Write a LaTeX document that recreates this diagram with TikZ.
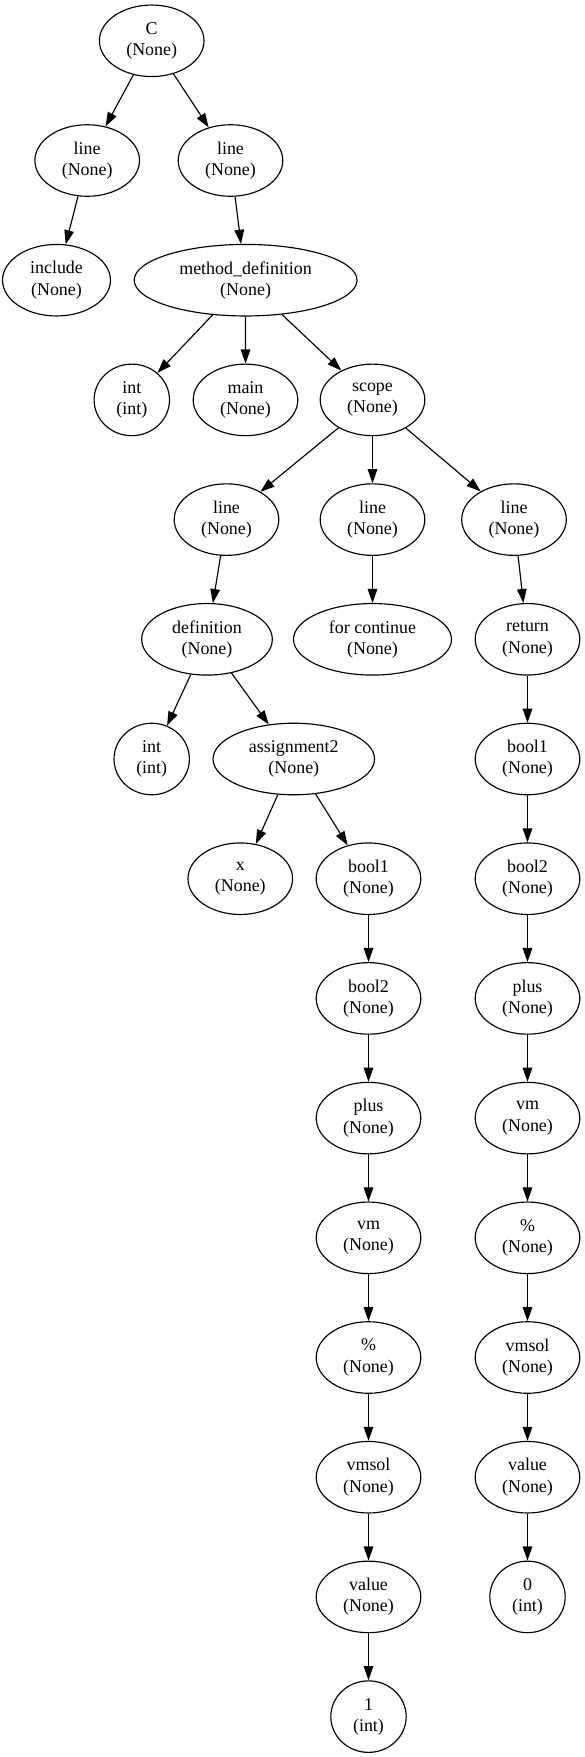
\documentclass[tikz,border=0pt]{standalone}
\usepackage{fontspec}
\setmainfont{Liberation Serif}
\usepackage{tikz}
\usetikzlibrary{shapes.geometric,arrows.meta}

\tikzset{
	astnode/.style={ellipse, draw, line width=0.9pt, inner sep=0pt, align=center,
		minimum width=81.6pt, minimum height=55.8pt, font=\fontsize{14}{16.5}\selectfont},
	narrow/.style={minimum width=58.8pt},
	edge/.style={line width=0.9pt, -{Triangle[length=11pt, width=7.5pt]}}
}

\begin{document}
\begin{tikzpicture}[x=0.78pt, y=-0.78pt]
	\useasboundingbox (0,0) rectangle (585,1757);
	\node[astnode] (C) at (151.7, 40.8) {C\\(None)};
		\node[astnode] (line1) at (87.2, 160.5) {line\\(None)};
		\node[astnode] (line2) at (230.5, 160.5) {line\\(None)};
			\node[astnode, minimum width=84.2pt] (include) at (56.5, 280.2) {include\\(None)};
			\node[astnode, minimum width=173.8pt] (mdef) at (245.6, 280.2) {method\_definition\\(None)};
				\node[astnode, narrow] (int1) at (131.8, 399.9) {int\\(int)};
				\node[astnode] (main) at (245.5, 399.9) {main\\(None)};
				\node[astnode] (scope) at (372.5, 399.9) {scope\\(None)};
					\node[astnode] (line3) at (226.5, 519.6) {line\\(None)};
					\node[astnode] (line4) at (372.5, 519.6) {line\\(None)};
					\node[astnode] (line5) at (514, 519.6) {line\\(None)};
						\node[astnode, minimum width=101.9pt] (def) at (207, 639.3) {definition\\(None)};
						\node[astnode, minimum width=123.2pt] (forc) at (372.5, 639.3) {for continue\\(None)};
						\node[astnode] (ret) at (527.5, 639.3) {return\\(None)};
							\node[astnode, narrow] (int2) at (151.7, 759) {int\\(int)};
							\node[astnode, minimum width=126pt] (asg) at (293.8, 759) {assignment2\\(None)};
							\node[astnode] (rbool1) at (527.5, 759) {bool1\\(None)};
								\node[astnode] (x) at (240.3, 878.7) {x\\(None)};
								\node[astnode] (lbool1) at (368.5, 878.7) {bool1\\(None)};
								\node[astnode] (rbool2) at (527.5, 878.7) {bool2\\(None)};
	% left chain
	\node[astnode] (lbool2) at (368.5, 998.4) {bool2\\(None)};
	\node[astnode] (lplus) at (368.5, 1118.1) {plus\\(None)};
	\node[astnode] (lvm) at (368.5, 1237.8) {vm\\(None)};
	\node[astnode] (lmod) at (368.5, 1357.5) {\%\\(None)};
	\node[astnode] (lvmsol) at (368.5, 1477.2) {vmsol\\(None)};
	\node[astnode] (lvalue) at (368.5, 1596.9) {value\\(None)};
	\node[astnode, narrow] (one) at (368.5, 1716.6) {1\\(int)};
	% right chain
	\node[astnode] (rplus) at (527.5, 998.4) {plus\\(None)};
	\node[astnode] (rvm) at (527.5, 1118.1) {vm\\(None)};
	\node[astnode] (rmod) at (527.5, 1237.8) {\%\\(None)};
	\node[astnode] (rvmsol) at (527.5, 1357.5) {vmsol\\(None)};
	\node[astnode] (rvalue) at (527.5, 1477.2) {value\\(None)};
	\node[astnode, narrow] (zero) at (527.5, 1596.9) {0\\(int)};
	\draw[edge] (C) to (line1);
	\draw[edge] (C) to (line2);
	\draw[edge] (line1) to (include);
	\draw[edge] (line2) to (mdef);
	\draw[edge] (mdef) to (int1);
	\draw[edge] (mdef) to (main);
	\draw[edge] (mdef) to (scope);
	\draw[edge] (scope) to (line3);
	\draw[edge] (scope) to (line4);
	\draw[edge] (scope) to (line5);
	\draw[edge] (line3) to (def);
	\draw[edge] (line4) to (forc);
	\draw[edge] (line5) to (ret);
	\draw[edge] (def) to (int2);
	\draw[edge] (def) to (asg);
	\draw[edge] (asg) to (x);
	\draw[edge] (asg) to (lbool1);
	\draw[edge] (lbool1) to (lbool2);
	\draw[edge] (lbool2) to (lplus);
	\draw[edge] (lplus) to (lvm);
	\draw[edge] (lvm) to (lmod);
	\draw[edge] (lmod) to (lvmsol);
	\draw[edge] (lvmsol) to (lvalue);
	\draw[edge] (lvalue) to (one);
	\draw[edge] (ret) to (rbool1);
	\draw[edge] (rbool1) to (rbool2);
	\draw[edge] (rbool2) to (rplus);
	\draw[edge] (rplus) to (rvm);
	\draw[edge] (rvm) to (rmod);
	\draw[edge] (rmod) to (rvmsol);
	\draw[edge] (rvmsol) to (rvalue);
	\draw[edge] (rvalue) to (zero);
\end{tikzpicture}
\end{document}
